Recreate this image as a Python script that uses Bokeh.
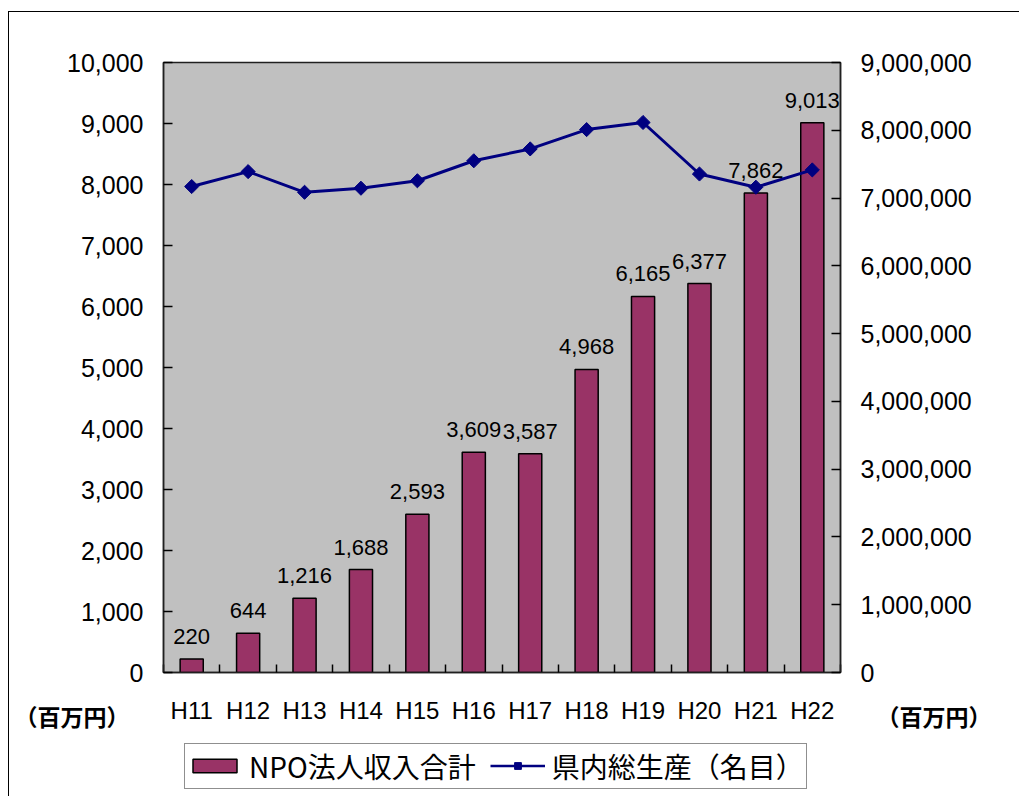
from bokeh.plotting import figure
from bokeh.layouts import column
from bokeh.models import (Range1d, LinearAxis, FixedTicker, NumeralTickFormatter,
                          ColumnDataSource, LabelSet, Legend, LegendItem)
from bokeh.core.properties import value
from bokeh.embed import file_html
from bokeh.resources import INLINE
import math

# ---- data ----
years = ["H11", "H12", "H13", "H14", "H15", "H16", "H17", "H18", "H19", "H20", "H21", "H22"]
npo_income = [220, 644, 1216, 1688, 2593, 3609, 3587, 4968, 6165, 6377, 7862, 9013]
gdp_nominal = [7170000, 7390000, 7085000, 7145000, 7255000, 7550000, 7725000,
               8010000, 8115000, 7355000, 7160000, 7415000]
left_ticks = [0, 1000, 2000, 3000, 4000, 5000, 6000, 7000, 8000, 9000, 10000]
right_ticks = [0, 1000000, 2000000, 3000000, 4000000, 5000000, 6000000, 7000000, 8000000, 9000000]
unit_label = "（百万円）"
legend_bar = "NPO法人収入合計"
legend_line = "県内総生産（名目）"

n = len(years)
xs = list(range(1, n + 1))
src = ColumnDataSource(dict(
    x=xs, npo=npo_income, gdp=gdp_nominal, year=years,
    lbl=[f"{v:,}" for v in npo_income],
))

FONT = "Liberation Sans"
CJK = "Noto Sans CJK JP"
BAR_COLOR = "#993366"
LINE_COLOR = "#000080"

# layout constants (pixels)
W = 1010
BL, BR, BT, BB = 154, 179, 50, 16
H1 = 676          # main chart canvas (frame is H1 - BT - BB tall)
H2 = 108          # strip under the chart: category labels, units, legend

# ---------------- main chart ----------------
p = figure(width=W, height=H1, output_backend="svg", toolbar_location=None,
           x_range=Range1d(0.5, n + 0.5), y_range=Range1d(0, 10000),
           min_border_left=BL, min_border_right=BR, min_border_top=BT, min_border_bottom=BB)
p.extra_y_ranges = {"gdp": Range1d(0, 9000000)}

p.background_fill_color = "#C0C0C0"
p.border_fill_color = "white"
p.outline_line_color = "#202020"
p.outline_line_width = 1.5
p.grid.visible = False

# x axis line with category-boundary tick marks
xa = p.xaxis[0]
xa.ticker = FixedTicker(ticks=[], minor_ticks=[i + 0.5 for i in range(0, n + 1)])
xa.major_tick_in = 0
xa.major_tick_out = 0
xa.minor_tick_in = 8
xa.minor_tick_out = 0
xa.minor_tick_line_color = "black"
xa.minor_tick_line_width = 1.5
xa.major_label_standoff = 0
xa.axis_line_width = 1.5
xa.axis_line_color = "#202020"


def style_y(ax):
    ax.formatter = NumeralTickFormatter(format="0,0")
    ax.major_tick_in = 9
    ax.major_tick_out = 0
    ax.minor_tick_in = 0
    ax.minor_tick_out = 0
    ax.major_tick_line_width = 1.5
    ax.major_tick_line_color = "black"
    ax.major_label_text_font = FONT
    ax.major_label_text_font_size = "25px"
    ax.major_label_text_color = "black"
    ax.major_label_standoff = 20
    ax.axis_line_width = 1.5
    ax.axis_line_color = "#202020"


ya = p.yaxis[0]
ya.ticker = FixedTicker(ticks=left_ticks)
style_y(ya)

ra = LinearAxis(y_range_name="gdp", ticker=FixedTicker(ticks=right_ticks))
style_y(ra)
p.add_layout(ra, "right")

bars = p.vbar(x="x", top="npo", width=0.41, source=src, fill_color=BAR_COLOR,
              line_color="black", line_width=1.5)
labels = LabelSet(x="x", y="npo", text="lbl", source=src, text_align="center",
                  text_baseline="bottom", y_offset=15, text_font=value(FONT),
                  text_font_size=value("22px"), text_color="black")
p.add_layout(labels)

p.line(x="x", y="gdp", source=src, y_range_name="gdp", line_color=LINE_COLOR, line_width=3)
p.scatter(x="x", y="gdp", source=src, y_range_name="gdp", marker="square",
          angle=math.pi / 4, size=10, fill_color=LINE_COLOR, line_color=LINE_COLOR)

# ---------------- strip under the chart ----------------
# y data units = pixels measured downward from the top of the strip, shifted by OFF
OFF = 60
q = figure(width=W, height=H2, output_backend="svg", toolbar_location=None,
           x_range=p.x_range, y_range=Range1d(-H2 - OFF, -OFF),
           min_border_left=BL, min_border_right=BR, min_border_top=0, min_border_bottom=0,
           x_axis_location=None)
q.outline_line_color = None
q.grid.visible = False
q.background_fill_color = "white"
q.border_fill_color = "white"

ROW_Y = -OFF - 22     # centre of the category-label row
UNIT_Y = -OFF - 27

q.text(x="x", y=ROW_Y, text="year", source=src, text_align="center",
       text_baseline="middle", text_font=value(FONT), text_font_size="24px",
       text_color="black")


def unit_axis(ax, standoff):
    ax.ticker = FixedTicker(ticks=[UNIT_Y])
    ax.major_label_overrides = {UNIT_Y: unit_label}
    ax.axis_line_color = None
    ax.major_tick_line_color = None
    ax.minor_tick_line_color = None
    ax.major_tick_in = 0
    ax.major_tick_out = 0
    ax.major_label_text_font = CJK
    ax.major_label_text_font_size = "23px"
    ax.major_label_text_font_style = "bold"
    ax.major_label_text_color = "black"
    ax.major_label_standoff = standoff


unit_axis(q.yaxis[0], 34)
qr = LinearAxis()
unit_axis(qr, 36)
q.add_layout(qr, "right")

# legend entries: hidden renderers that only lend their styles to the legend
lb = q.vbar(x="x", top="npo", width=0.41, source=src, fill_color=BAR_COLOR,
            line_color="black", line_width=1.5, visible=False)
ll = q.line(x="x", y="gdp", source=src, line_color=LINE_COLOR, line_width=2.5, visible=False)
lm = q.scatter(x="x", y="gdp", source=src, marker="square", angle=math.pi / 4, size=11,
               fill_color=LINE_COLOR, line_color=LINE_COLOR, visible=False)

legend = Legend(items=[LegendItem(label=legend_bar, renderers=[lb]),
                       LegendItem(label=legend_line, renderers=[ll, lm])],
                orientation="horizontal", location=(21, 7.5), click_policy="none",
                label_text_font=CJK, label_text_font_size="28px", label_text_color="black",
                glyph_width=55, glyph_height=17, spacing=14, padding=2, margin=0,
                border_line_color="#202020", border_line_width=1.5,
                background_fill_color="white", label_standoff=7,
                inactive_fill_alpha=0)
q.add_layout(legend, "center")

layout = column(p, q, spacing=0,
                styles={"margin-left": "8px", "margin-top": "11px",
                        "border-left": "1.5px solid black", "border-top": "1.5px solid black"})

open("out.html", "w").write(file_html(layout, INLINE))
